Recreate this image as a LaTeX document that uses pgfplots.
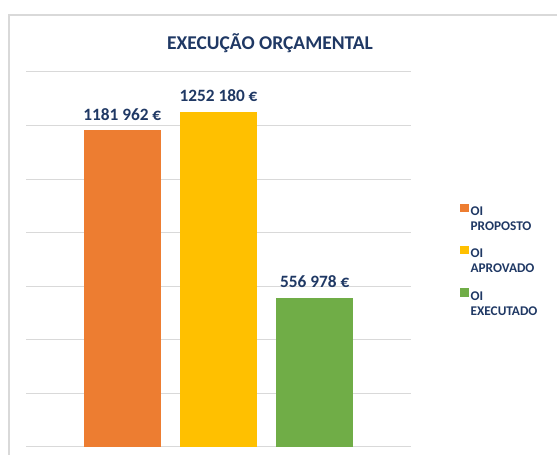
\documentclass[border=0pt]{standalone}
\usepackage{fontspec}
\setmainfont{Carlito}
\usepackage{pgfplots}
\pgfplotsset{compat=1.18}
\definecolor{cOrange}{HTML}{ED7D31}
\definecolor{cYellow}{HTML}{FFC000}
\definecolor{cGreen}{HTML}{70AD47}
\definecolor{cNavy}{HTML}{1F3864}
\definecolor{cGrid}{HTML}{D9D9D9}
\definecolor{cFrame}{HTML}{D9D9D9}
\newcommand{\legtxt}[2]{\color{cNavy}\bfseries\fontsize{13.3}{15}\selectfont\begin{tabular}[t]{@{}l@{}}#1\\#2\end{tabular}}
\begin{document}
\begin{tikzpicture}[x=1pt,y=1pt]
\useasboundingbox (0,0) rectangle (557,455);
\begin{scope}
\clip (0,0) rectangle (557,455);
\draw[line width=2pt, color=cFrame] (9,-5) -- (9,440) -- (570,440);
\end{scope}
\node[font=\bfseries\fontsize{19.5}{23}\selectfont, text=cNavy] at (270,412) {EXECUÇÃO ORÇAMENTAL};
\begin{axis}[
  at={(26pt,8pt)}, anchor=south west,
  width=385pt, height=375pt, scale only axis,
  xmin=-1, xmax=3, ymin=0, ymax=1400000,
  ytick={0,200000,400000,600000,800000,1000000,1200000,1400000},
  yticklabels={}, scaled y ticks=false,
  xtick=\empty,
  ymajorgrids, grid style={color=cGrid, line width=1pt},
  axis line style={draw=none}, tick style={draw=none},
  ybar, bar width=77pt, bar shift=0pt,
  point meta=explicit symbolic,
  nodes near coords,
  nodes near coords style={anchor=south, inner sep=0pt, yshift=9.5pt,
     font=\bfseries\fontsize{17.3}{20}\selectfont, text=cNavy},
  legend style={at={(1.127,0.651)}, anchor=north west, draw=none, fill=none,
     row sep=26.3pt, inner sep=0pt,
     cells={anchor=west}},
  legend cell align=left,
  legend image code/.code={\fill[#1] (0pt,-1pt) rectangle (8.5pt,7.5pt);},
]
\addplot[fill=cOrange, draw=none] coordinates {(0,1181962) [1181 962 €]};
\addlegendentry{\legtxt{OI}{PROPOSTO}}
\addplot[fill=cYellow, draw=none] coordinates {(1,1252180) [1252 180 €]};
\addlegendentry{\legtxt{OI}{APROVADO}}
\addplot[fill=cGreen, draw=none] coordinates {(2,556978) [556 978 €]};
\addlegendentry{\legtxt{OI}{EXECUTADO}}
\end{axis}
\end{tikzpicture}
\end{document}
